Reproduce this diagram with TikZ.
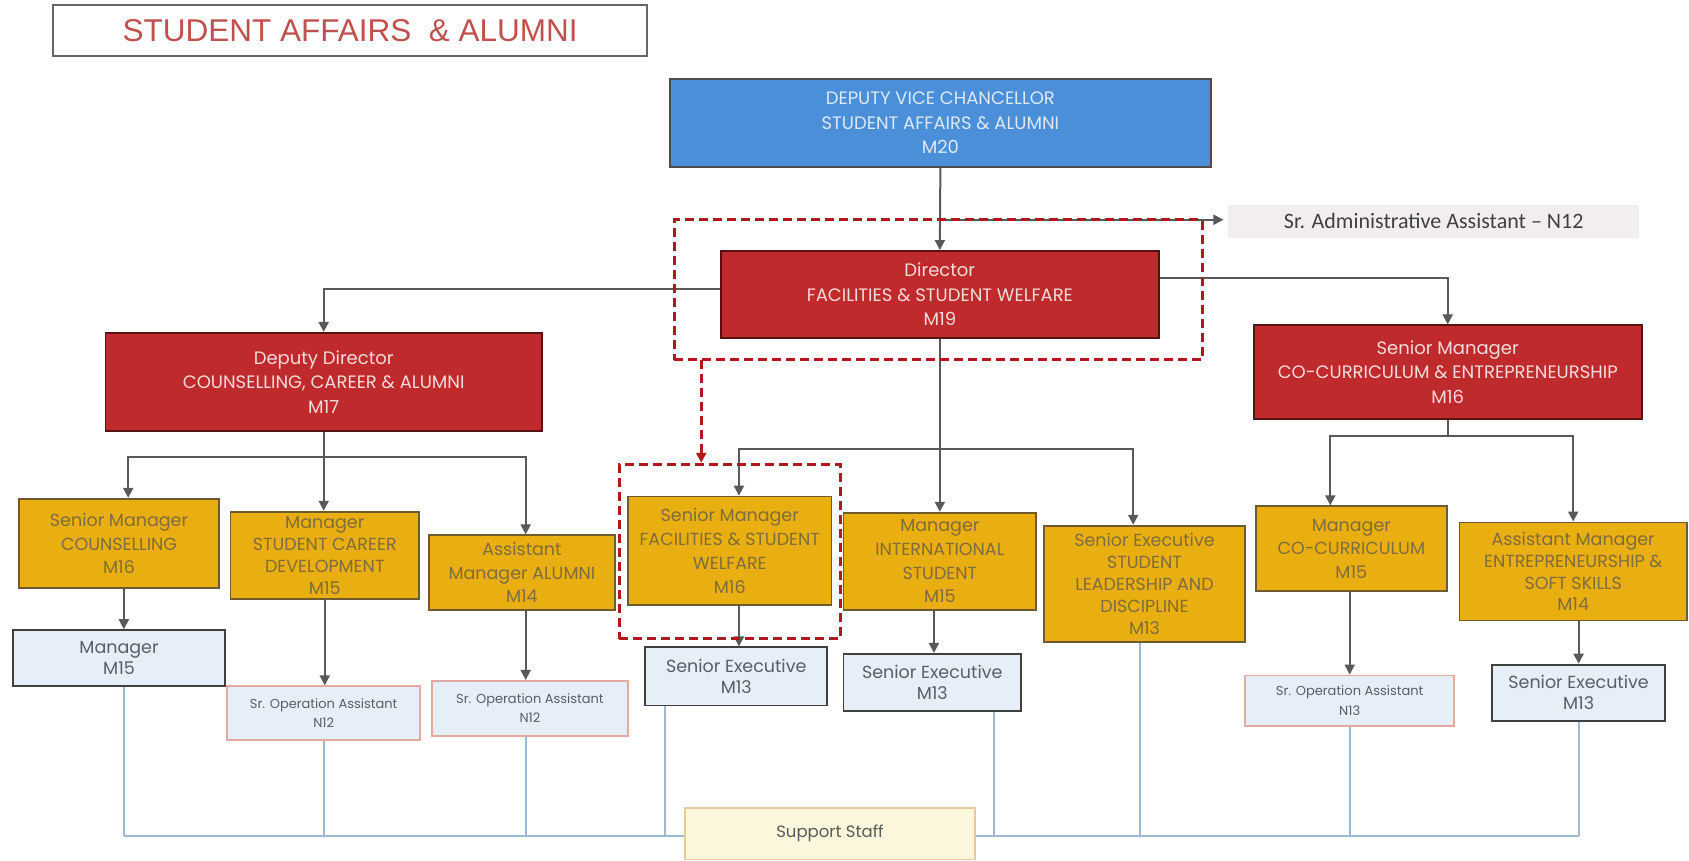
\documentclass[tikz,border=0pt]{standalone}
\usepackage{fontspec}
\setmainfont{Poppins}
\newfontfamily\arialf{Liberation Sans}
\newfontfamily\calf{Carlito}
\usetikzlibrary{arrows.meta,calc}
\definecolor{dvcblue}{HTML}{4A8FD8}
\definecolor{dvctext}{HTML}{DDE9F8}
\definecolor{boxred}{HTML}{BF2A2C}
\definecolor{redtext}{HTML}{F4DADA}
\definecolor{boxyellow}{HTML}{E9AE10}
\definecolor{yeltext}{HTML}{806C3C}
\definecolor{yelborder}{HTML}{6E5C30}
\definecolor{lightbox}{HTML}{E6EEF7}
\definecolor{lighttext}{HTML}{566069}
\definecolor{pinkborder}{HTML}{E2AAA2}
\definecolor{dashred}{HTML}{B3161E}
\definecolor{busblue}{HTML}{9DB8D0}
\definecolor{supfill}{HTML}{FCF7DC}
\definecolor{supborder}{HTML}{E6C9A0}
\definecolor{titlered}{HTML}{C0504D}
\definecolor{sraafill}{HTML}{F2EEEE}
\newcommand{\mkbox}[7]{\node[#1, minimum width={(#5-#3)*1.0772pt}, minimum height={(#6-#4)*1.0772pt}] (#2) at ({(#3+#5)/2},{(#4+#6)/2}) {#7};}
\begin{document}
\begin{tikzpicture}[x=1.0772pt,y=-1.0772pt,
  box/.style={inner sep=0pt, align=center},
  bluebox/.style={box, draw=black!70, line width=2pt, fill=dvcblue, text=dvctext, font=\fontsize{18}{24.5}\selectfont},
  redbox/.style={box, draw=black!55!boxred, line width=1.8pt, fill=boxred, text=redtext, font=\fontsize{18}{24.5}\selectfont},
  yelbox/.style={box, draw=yelborder, line width=1.8pt, fill=boxyellow, text=yeltext, font=\fontsize{17.5}{23.8}\selectfont},
  yeltight/.style={yelbox, font=\fontsize{17.5}{21.8}\selectfont},
  lightbox/.style={box, draw=black!75, line width=1.8pt, fill=lightbox, text=lighttext, font=\fontsize{17.5}{21.5}\selectfont},
  pinkbox/.style={box, draw=pinkborder, line width=1.6pt, fill=lightbox, text=lighttext, font=\fontsize{13}{19.5}\selectfont},
  dashbox/.style={draw=dashred, line width=3pt, dash pattern=on 9pt off 5pt, inner sep=0pt},
  arr/.style={draw=black!65, line width=2pt, -{Triangle[length=10pt,width=10pt]}},
  plain/.style={draw=black!65, line width=2pt},
  dasharr/.style={draw=dashred, line width=3pt, dash pattern=on 9pt off 5pt, -{Triangle[length=10pt,width=10pt]}},
  bus/.style={draw=busblue, line width=1.8pt}
]
\useasboundingbox (0,0) rectangle (1568,799);
\fill[white] (0,0) rectangle (1568,799);

% title
\mkbox{box, draw=black!60, line width=2pt, text=titlered, font=\arialf\fontsize{31.5}{36}\selectfont}{title}{49}{5}{601}{52}{STUDENT AFFAIRS\ \ \& ALUMNI}

% top levels
\mkbox{bluebox}{dvc}{622}{73}{1124}{155}{DEPUTY VICE CHANCELLOR\\STUDENT AFFAIRS \& ALUMNI\\M20}
\mkbox{redbox}{dir}{669}{233}{1076}{314}{Director\\FACILITIES \& STUDENT WELFARE\\M19}
\mkbox{box, fill=sraafill, text=black!75, font=\calf\fontsize{22}{26}\selectfont}{sraa}{1140}{190}{1522}{221}{Sr. Administrative Assistant – N12}
\mkbox{redbox}{dd}{98}{309}{503}{400}{Deputy Director\\COUNSELLING, CAREER \& ALUMNI\\M17}
\mkbox{redbox}{scc}{1164}{302}{1524}{389}{Senior Manager\\CO-CURRICULUM \& ENTREPRENEURSHIP\\M16}

% level 3
\mkbox{yelbox}{smc}{18}{463}{203}{546}{Senior Manager\\COUNSELLING\\M16}
\mkbox{yeltight}{mscd}{214}{475}{389}{556}{Manager\\STUDENT CAREER\\DEVELOPMENT\\M15}
\mkbox{yelbox}{ama}{398}{497}{571}{566}{Assistant\\Manager ALUMNI\\M14}
\mkbox{yelbox}{smf}{583}{461}{772}{562}{Senior Manager\\FACILITIES \& STUDENT\\WELFARE\\M16}
\mkbox{yelbox}{mi}{783}{476}{962}{566}{Manager\\INTERNATIONAL\\STUDENT\\M15}
\mkbox{yeltight}{sel}{969}{488}{1156}{596}{Senior Executive\\STUDENT\\LEADERSHIP AND\\DISCIPLINE\\M13}
\mkbox{yelbox}{mcc}{1166}{470}{1343}{549}{Manager\\CO-CURRICULUM\\M15}
\mkbox{yeltight}{ame}{1355}{485}{1566}{576}{Assistant Manager\\ENTREPRENEURSHIP \&\\SOFT SKILLS\\M14}

% level 4
\mkbox{lightbox}{mgr}{12}{585}{209}{637}{Manager\\M15}
\mkbox{pinkbox}{sroa1}{211}{637}{390}{687}{Sr. Operation Assistant\\N12}
\mkbox{pinkbox}{sroa2}{401}{632}{583}{683}{Sr. Operation Assistant\\N12}
\mkbox{lightbox}{se1}{599}{601}{768}{655}{Senior Executive\\M13}
\mkbox{lightbox}{se2}{783}{607}{948}{660}{Senior Executive\\M13}
\mkbox{pinkbox}{sroa3}{1156}{627}{1350}{674}{Sr. Operation Assistant\\N13}
\mkbox{lightbox}{se3}{1385}{617}{1546}{669}{Senior Executive\\M13}

% connectors, top
\draw[arr] (dvc.south) -- (dir.north);
\coordinate (j1) at (873,204);
\draw[arr] (j1) -- ($(j1 -| sraa.west)+(-4,0)$);
\draw[arr] ($(dir.west)+(0,-5)$) -| (dd.north);
\draw[arr] ($(dir.east)+(0,-15.5)$) -| (scc.north);
\draw[arr] (dir.south) -- (mi.north);
\coordinate (b1) at (872.5,417);
\draw[arr] (b1) -| ($(smf.north)+(8.5,0)$);
\draw[arr] (b1) -| ($(sel.north)+(-10.5,0)$);

\draw[arr] (dd.south) -- (dd.south |- mscd.north);
\coordinate (b2) at (300.5,424);
\draw[arr] (b2) -| ($(smc.north)+(8.5,0)$);
\draw[arr] (b2) -| ($(ama.north)+(3.5,0)$);

\coordinate (b3) at (1344,405);
\draw[plain] (scc.south) -- (b3);
\draw[arr] (b3) -| ($(mcc.north)+(-19.5,0)$);
\draw[arr] (b3) -| (ame.north);

% connectors to level 4
\coordinate (a1) at ($(smc.south)+(4.5,0)$);
\draw[arr] (a1) -- (a1 |- mgr.north);
\draw[arr] (mscd.south) -- (mscd.south |- sroa1.north);
\coordinate (a2) at ($(ama.south)+(3.5,0)$);
\draw[arr] (a2) -- (a2 |- sroa2.north);
\coordinate (a3) at ($(se1.north)+(2.5,0)$);
\draw[arr] (a3 |- smf.south) -- (a3);
\coordinate (a4) at ($(se2.north)+(1.5,0)$);
\draw[arr] (a4 |- mi.south) -- (a4);
\draw[arr] (sroa3.north |- mcc.south) -- (sroa3.north);
\draw[arr] (se3.north |- ame.south) -- (se3.north);

% highlight
\mkbox{dashbox}{hl1}{626}{204}{1116}{334}{}
\mkbox{dashbox}{hl2}{575}{431}{780}{593}{}
\coordinate (d1) at (651,334);
\draw[dasharr] (d1) -- (d1 |- hl2.north);

% support staff bus
\coordinate (busL) at (115,776);
\coordinate (busR) at (1466,776);
\draw[bus] (busL) -- (busR);
\coordinate (v1) at ($(mgr.south)+(4.5,0)$);
\draw[bus] (v1) -- (v1 |- busL);
\draw[bus] (sroa1.south) -- (sroa1.south |- busL);
\coordinate (v3) at ($(sroa2.south)+(-4,0)$);
\draw[bus] (v3) -- (v3 |- busL);
\coordinate (v4) at ($(se1.south)+(-66.5,0)$);
\draw[bus] (v4) -- (v4 |- busL);
\coordinate (v5) at ($(se2.south)+(57.5,0)$);
\draw[bus] (v5) -- (v5 |- busL);
\coordinate (v6) at ($(sel.south)+(-4.5,0)$);
\draw[bus] (v6) -- (v6 |- busL);
\draw[bus] (sroa3.south) -- (sroa3.south |- busL);
\draw[bus] (se3.south) -- (se3.south |- busL);

\mkbox{box, draw=supborder, line width=1.6pt, fill=supfill, text=black!65, font=\fontsize{16.5}{20}\selectfont}{sup}{636}{750}{905}{798}{Support Staff}
\end{tikzpicture}
\end{document}
